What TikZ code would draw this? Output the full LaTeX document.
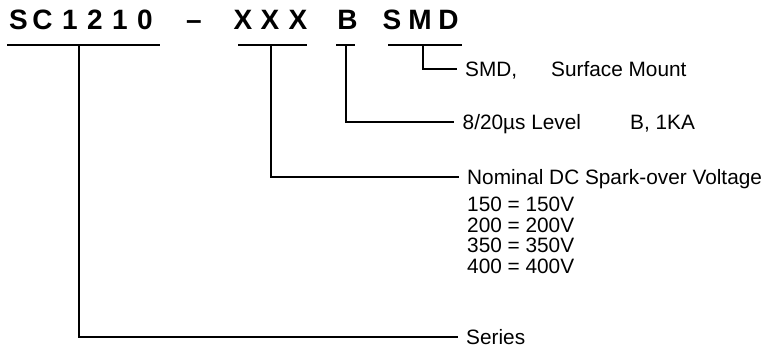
\documentclass[tikz,border=0pt]{standalone}
\usepackage{fontspec}
\setmainfont{Liberation Sans}
\begin{document}
\begin{tikzpicture}[x=1pt,y=-1pt,
  ttl/.style={font=\fontsize{28}{28}\selectfont\bfseries, inner sep=0pt, text height=20pt, text depth=0pt},
  lbl/.style={font=\fontsize{20.8}{20.8}\selectfont, inner ysep=0pt, inner xsep=0pt, anchor=west, text height=14.9pt, text depth=0pt},
  lead/.style={lbl, inner xsep=8.5pt},
  ln/.style={line width=2.7pt, line join=miter}]
\useasboundingbox (0,0) rectangle (769,348);
% title characters
\node[ttl] (c1) at (18.5,20) {S};
\node[ttl] (c2) at (42.5,20) {C};
\node[ttl] (c3) at (70,20) {1};
\node[ttl] (c4) at (95,20) {2};
\node[ttl] (c5) at (120,20) {1};
\node[ttl] (c6) at (145,20) {0};
\node[ttl] (c7) at (194,20) {–};
\node[ttl] (c8) at (243,20) {X};
\node[ttl] (c9) at (270,20) {X};
\node[ttl] (c10) at (298,20) {X};
\node[ttl] (c11) at (347.5,20) {B};
\node[ttl] (c12) at (392,20) {S};
\node[ttl] (c13) at (420,20) {M};
\node[ttl] (c14) at (448.5,20) {D};
% underlines
\draw[ln] (7,45) -- (160,45);
\draw[ln] (238,45) -- (307,45);
\draw[ln] (336,45) -- (355,45);
\draw[ln] (388,45) -- (462,45);
\coordinate (u1) at (79,45);
\coordinate (u2) at (271,45);
\coordinate (u3) at (346,45);
\coordinate (u4) at (423,45);
% labels
\node[lead] (smd) at (456.5,69) {SMD,};
\node[lbl] (smd2) at (551,69) {Surface Mount};
\node[lead] (lvl) at (454,122) {8/20µs Level};
\node[lbl] (lvl2) at (630,122) {B, 1KA};
\node[lead] (nom) at (458.5,177) {Nominal DC Spark-over Voltage};
\node[lbl] (v1) at (467,204) {150 = 150V};
\node[lbl] (v2) at (467,225) {200 = 200V};
\node[lbl] (v3) at (467,245) {350 = 350V};
\node[lbl] (v4) at (467,266) {400 = 400V};
\node[lead] (ser) at (457.5,337) {Series};
% connectors
\draw[ln] (u4) |- (smd.west);
\draw[ln] (u3) |- (lvl.west);
\draw[ln] (u2) |- (nom.west);
\draw[ln] (u1) |- (ser.west);
\end{tikzpicture}
\end{document}
